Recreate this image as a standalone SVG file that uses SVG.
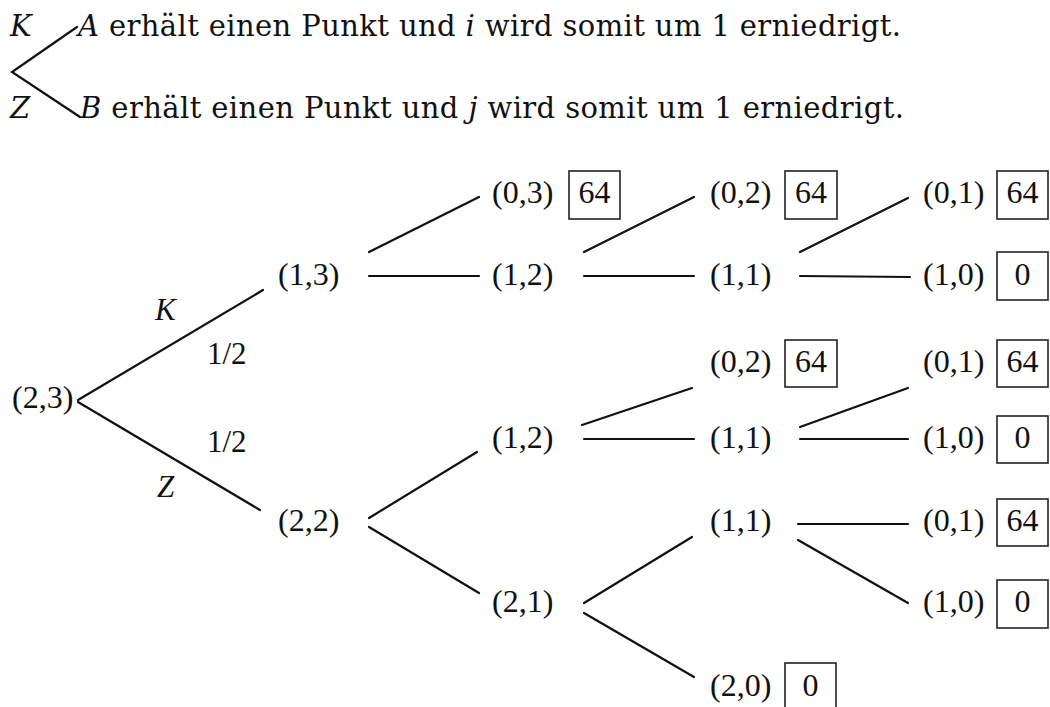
<svg xmlns="http://www.w3.org/2000/svg" width="1050" height="707" viewBox="0 0 1050 707">
<style>
.h{font-family:"DejaVu Serif","Liberation Serif",serif;font-size:29px;fill:#111}
.it{font-style:italic}
.t{font-family:"Liberation Serif","Times New Roman",serif;font-size:32px;fill:#111}
.lbl{font-family:"Liberation Serif","Times New Roman",serif;font-size:31px;fill:#111}
.box{fill:none;stroke:#222;stroke-width:1.6}
.c line,.c path{stroke:#111;stroke-width:2.2;fill:none;stroke-linecap:round}
</style>
<rect width="1050" height="707" fill="#fff"/>
<g id="header">
<text class="h it" x="10" y="36">K</text>
<text class="h" x="78" y="36" textLength="823" lengthAdjust="spacing"><tspan class="it">A</tspan> erhält einen Punkt und <tspan class="it">i</tspan> wird somit um 1 erniedrigt.</text>
<text class="h it" x="10" y="118">Z</text>
<text class="h" x="80" y="118" textLength="824" lengthAdjust="spacing"><tspan class="it">B</tspan> erhält einen Punkt und <tspan class="it">j</tspan> wird somit um 1 erniedrigt.</text>
</g>
<g class="c" id="connectors">
<path d="M77,27 L12,72 L80,117"/>
<line x1="78" y1="400" x2="263" y2="290"/>
<line x1="78" y1="402" x2="260" y2="510"/>
<line x1="369" y1="252" x2="479" y2="197"/>
<line x1="369" y1="276" x2="479" y2="276"/>
<line x1="369" y1="518" x2="477" y2="452"/>
<line x1="369" y1="527" x2="479" y2="593"/>
<line x1="584" y1="252" x2="694" y2="197"/>
<line x1="584" y1="276" x2="694" y2="276"/>
<line x1="582" y1="425" x2="692" y2="388"/>
<line x1="584" y1="439" x2="694" y2="439"/>
<line x1="584" y1="603" x2="692" y2="537"/>
<line x1="584" y1="613" x2="694" y2="677"/>
<line x1="800" y1="252" x2="908" y2="198"/>
<line x1="800" y1="276" x2="910" y2="277"/>
<line x1="800" y1="427" x2="908" y2="388"/>
<line x1="800" y1="439" x2="908" y2="439"/>
<line x1="798" y1="524" x2="908" y2="524"/>
<line x1="798" y1="540" x2="908" y2="603"/>
</g>
<g id="edge-labels">
<text class="lbl it" x="155" y="320">K</text>
<text class="lbl" x="207" y="364">1/2</text>
<text class="lbl" x="207" y="452">1/2</text>
<text class="lbl it" x="157" y="497">Z</text>
</g>
<g id="n23"><text class="t" x="12" y="408">(2,3)</text></g>
<g id="n13"><text class="t" x="278" y="285">(1,3)</text></g>
<g id="n22"><text class="t" x="278" y="531">(2,2)</text></g>
<g id="n03"><text class="t" x="492" y="203">(0,3)</text><rect class="box" x="569" y="171" width="51" height="48"/><text class="t" x="594.5" y="203" text-anchor="middle">64</text></g>
<g id="n12a"><text class="t" x="492" y="285">(1,2)</text></g>
<g id="n12b"><text class="t" x="492" y="448">(1,2)</text></g>
<g id="n21"><text class="t" x="492" y="612">(2,1)</text></g>
<g id="n02a"><text class="t" x="710" y="203">(0,2)</text><rect class="box" x="785" y="171" width="52" height="48"/><text class="t" x="811" y="203" text-anchor="middle">64</text></g>
<g id="n11a"><text class="t" x="710" y="285">(1,1)</text></g>
<g id="n02b"><text class="t" x="710" y="372">(0,2)</text><rect class="box" x="785" y="340" width="52" height="47"/><text class="t" x="811" y="372" text-anchor="middle">64</text></g>
<g id="n11b"><text class="t" x="710" y="448">(1,1)</text></g>
<g id="n11c"><text class="t" x="710" y="531">(1,1)</text></g>
<g id="n20"><text class="t" x="710" y="696">(2,0)</text><rect class="box" x="785" y="663" width="51" height="48"/><text class="t" x="810.5" y="696" text-anchor="middle">0</text></g>
<g id="n01a"><text class="t" x="923" y="203">(0,1)</text><rect class="box" x="997" y="171" width="51" height="48"/><text class="t" x="1022.5" y="203" text-anchor="middle">64</text></g>
<g id="n10a"><text class="t" x="923" y="285">(1,0)</text><rect class="box" x="997" y="252" width="51" height="48"/><text class="t" x="1022.5" y="285" text-anchor="middle">0</text></g>
<g id="n01b"><text class="t" x="923" y="372">(0,1)</text><rect class="box" x="997" y="340" width="51" height="47"/><text class="t" x="1022.5" y="372" text-anchor="middle">64</text></g>
<g id="n10b"><text class="t" x="923" y="448">(1,0)</text><rect class="box" x="997" y="416" width="51" height="47"/><text class="t" x="1022.5" y="448" text-anchor="middle">0</text></g>
<g id="n01c"><text class="t" x="923" y="531">(0,1)</text><rect class="box" x="997" y="499" width="51" height="47"/><text class="t" x="1022.5" y="531" text-anchor="middle">64</text></g>
<g id="n10c"><text class="t" x="923" y="612">(1,0)</text><rect class="box" x="997" y="580" width="51" height="48"/><text class="t" x="1022.5" y="612" text-anchor="middle">0</text></g>
</svg>
